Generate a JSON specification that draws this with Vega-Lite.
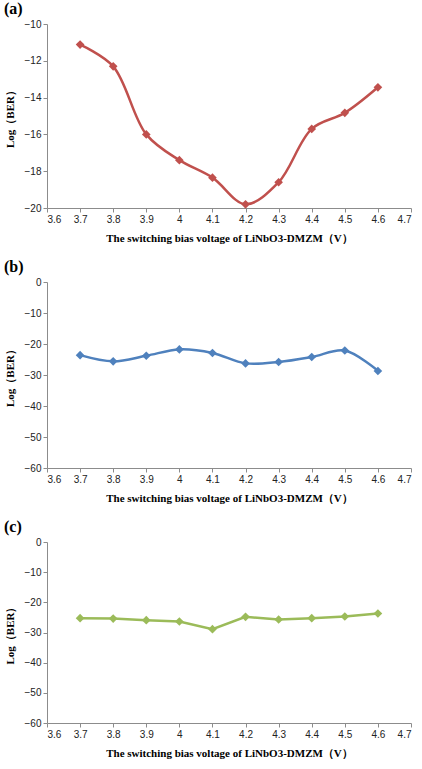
{
  "$schema": "https://vega.github.io/schema/vega-lite/v6.json",
  "background": "white",
  "padding": {"left": 4, "top": 1, "right": 5, "bottom": 4},
  "spacing": 16,
  "config": {
    "view": {"stroke": null},
    "axis": {
      "grid": false,
      "domainColor": "#8c8c8c",
      "tickColor": "#8c8c8c",
      "tickSize": 4,
      "labelFont": "Liberation Sans",
      "labelFontSize": 10,
      "labelColor": "#222222",
      "titleFont": "Liberation Serif",
      "titleFontSize": 11,
      "titleFontWeight": "bold",
      "titleColor": "#000000"
    },
    "title": {"font": "Liberation Serif", "fontSize": 16, "fontWeight": "bold", "color": "#000000", "anchor": "start", "frame": "bounds"}
  },
  "datasets": {
    "a": [
      {"v": 3.7, "ber": -11.12}, {"v": 3.8, "ber": -12.3}, {"v": 3.9, "ber": -16.0}, {"v": 4.0, "ber": -17.4}, {"v": 4.1, "ber": -18.35},
      {"v": 4.2, "ber": -19.8}, {"v": 4.3, "ber": -18.6}, {"v": 4.4, "ber": -15.7}, {"v": 4.5, "ber": -14.83}, {"v": 4.6, "ber": -13.44}
    ],
    "b": [
      {"v": 3.7, "ber": -23.6}, {"v": 3.8, "ber": -25.6}, {"v": 3.9, "ber": -23.8}, {"v": 4.0, "ber": -21.75}, {"v": 4.1, "ber": -22.9},
      {"v": 4.2, "ber": -26.25}, {"v": 4.3, "ber": -25.8}, {"v": 4.4, "ber": -24.2}, {"v": 4.5, "ber": -22.1}, {"v": 4.6, "ber": -28.7}
    ],
    "c": [
      {"v": 3.7, "ber": -25.25}, {"v": 3.8, "ber": -25.4}, {"v": 3.9, "ber": -25.9}, {"v": 4.0, "ber": -26.35}, {"v": 4.1, "ber": -28.9},
      {"v": 4.2, "ber": -24.8}, {"v": 4.3, "ber": -25.7}, {"v": 4.4, "ber": -25.25}, {"v": 4.5, "ber": -24.7}, {"v": 4.6, "ber": -23.7}
    ]
  },
  "vconcat": [
    {
      "title": {"text": "(a)", "offset": 2},
      "width": 364, "height": 184,
      "data": {"name": "a"},
      "encoding": {
        "x": {"field": "v", "type": "quantitative", "scale": {"domain": [3.6, 4.7], "nice": false, "zero": false},
              "axis": {"values": [3.6, 3.7, 3.8, 3.9, 4.0, 4.1, 4.2, 4.3, 4.4, 4.5, 4.6, 4.7], "format": "~g", "title": "The switching bias voltage of LiNbO3-DMZM（V）", "titlePadding": 8}},
        "y": {"field": "ber", "type": "quantitative", "scale": {"domain": [-20, -10], "nice": false, "zero": false},
              "axis": {"values": [-20, -18, -16, -14, -12, -10], "title": "Log（BER）", "titlePadding": 9}}
      },
      "layer": [
        {"mark": {"type": "line", "interpolate": "catmull-rom", "color": "#C0504D", "strokeWidth": 2.5}},
        {"mark": {"type": "point", "shape": "diamond", "filled": true, "size": 75, "color": "#C0504D", "opacity": 1}}
      ]
    },
    {
      "title": {"text": "(b)", "offset": 2},
      "width": 364, "height": 186,
      "data": {"name": "b"},
      "encoding": {
        "x": {"field": "v", "type": "quantitative", "scale": {"domain": [3.6, 4.7], "nice": false, "zero": false},
              "axis": {"values": [3.6, 3.7, 3.8, 3.9, 4.0, 4.1, 4.2, 4.3, 4.4, 4.5, 4.6, 4.7], "format": "~g", "title": "The switching bias voltage of LiNbO3-DMZM（V）", "titlePadding": 8}},
        "y": {"field": "ber", "type": "quantitative", "scale": {"domain": [-60, 0], "nice": false, "zero": false},
              "axis": {"values": [-60, -50, -40, -30, -20, -10, 0], "title": "Log（BER）", "titlePadding": 9}}
      },
      "layer": [
        {"mark": {"type": "line", "interpolate": "catmull-rom", "color": "#4F81BD", "strokeWidth": 2.5}},
        {"mark": {"type": "point", "shape": "diamond", "filled": true, "size": 75, "color": "#4F81BD", "opacity": 1}}
      ]
    },
    {
      "title": {"text": "(c)", "offset": 2},
      "width": 364, "height": 181,
      "data": {"name": "c"},
      "encoding": {
        "x": {"field": "v", "type": "quantitative", "scale": {"domain": [3.6, 4.7], "nice": false, "zero": false},
              "axis": {"values": [3.6, 3.7, 3.8, 3.9, 4.0, 4.1, 4.2, 4.3, 4.4, 4.5, 4.6, 4.7], "format": "~g", "title": "The switching bias voltage of LiNbO3-DMZM（V）", "titlePadding": 8}},
        "y": {"field": "ber", "type": "quantitative", "scale": {"domain": [-60, 0], "nice": false, "zero": false},
              "axis": {"values": [-60, -50, -40, -30, -20, -10, 0], "title": "Log（BER）", "titlePadding": 9}}
      },
      "layer": [
        {"mark": {"type": "line", "interpolate": "linear", "color": "#9BBB59", "strokeWidth": 2.5}},
        {"mark": {"type": "point", "shape": "diamond", "filled": true, "size": 75, "color": "#9BBB59", "opacity": 1}}
      ]
    }
  ]
}
